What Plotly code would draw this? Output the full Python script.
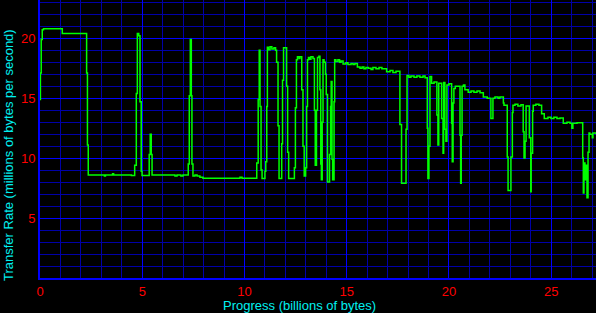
import plotly.graph_objects as go

# Progress (billions of bytes) where each reading starts
progress = [
    0.00, 0.02, 0.06, 0.11, 0.17, 1.09, 2.28, 2.32, 2.36, 3.15, 3.20, 3.55, 3.60, 4.47,
    4.63, 4.71, 4.76, 4.83, 4.89, 4.95, 4.99, 5.34, 5.39, 5.44, 5.48, 6.60, 6.70, 6.89,
    6.99, 7.25, 7.30, 7.35, 7.40, 7.43, 7.48, 7.58, 7.68, 7.82, 7.97, 9.78, 9.88,
    10.60, 10.67, 10.72, 10.76, 10.81, 10.86, 11.00, 11.04, 11.09, 11.12, 11.17, 11.25,
    11.34, 11.44, 11.52, 11.57, 11.64, 11.69, 11.82, 11.86, 11.91, 12.06, 12.11, 12.16,
    12.44, 12.49, 12.54, 12.59, 12.67, 12.71, 12.80, 12.86, 12.92, 12.99, 13.04, 13.08,
    13.13, 13.20, 13.25, 13.35, 13.42, 13.46, 13.52, 13.57, 13.64, 13.69, 13.73, 13.76,
    13.80, 13.84, 13.89, 13.96, 14.00, 14.06, 14.16, 14.21, 14.24, 14.28, 14.31, 14.38,
    14.41, 14.47, 14.57, 14.65, 14.72, 14.82, 14.96, 15.06, 15.21, 15.31, 15.40, 15.52,
    15.65, 15.75, 15.84, 15.94, 16.05, 16.19, 16.28, 16.43, 16.58, 16.72, 16.95, 17.12,
    17.26, 17.41, 17.60, 17.68, 17.90, 17.95, 18.04, 18.14, 18.29, 18.43, 18.58, 18.73,
    18.83, 18.94, 18.97, 19.02, 19.07, 19.15, 19.27, 19.41, 19.46, 19.50, 19.64, 19.71,
    19.74, 19.80, 19.85, 19.90, 20.00, 20.13, 20.16, 20.20, 20.24, 20.31, 20.54, 20.57,
    20.60, 20.64, 20.71, 20.78, 20.94, 21.08, 21.22, 21.37, 21.52, 21.68, 21.87, 22.05,
    22.15, 22.25, 22.40, 22.49, 22.66, 22.69, 22.85, 22.89, 23.03, 23.10, 23.13, 23.23,
    23.37, 23.52, 23.63, 23.67, 23.72, 23.77, 23.93, 24.00, 24.02, 24.09, 24.12, 24.25,
    24.40, 24.53, 24.66, 24.84, 24.99, 25.13, 25.28, 25.43, 25.59, 25.77, 25.92, 26.01,
    26.06, 26.26, 26.54, 26.57, 26.60, 26.65, 26.70, 26.75, 26.80, 26.85, 26.89, 27.01,
    27.04, 27.19,
]

# Transfer rate (millions of bytes per second)
rate = [
    14.9, 17.1, 19.9, 20.7, 20.8, 20.4, 17.1, 11.1, 8.6, 8.5, 8.6, 8.7, 8.6, 8.55,
    9.4, 15.4, 20.4, 20.2, 14.7, 8.9, 8.55, 10.3, 12.0, 10.3, 8.6, 8.5, 8.6, 8.5,
    8.6, 9.5, 15.2, 19.9, 15.2, 9.5, 8.5, 8.6, 8.5, 8.4, 8.33, 8.4, 8.33,
    9.6, 14.9, 19.0, 14.3, 9.0, 8.3, 8.9, 9.7, 14.3, 19.25, 19.05, 19.3,
    19.1, 19.2, 19.0, 18.0, 12.7, 8.3, 11.2, 16.5, 19.2, 16.0, 10.5, 8.3,
    9.2, 14.2, 18.2, 18.45, 18.3, 18.45, 15.7, 11.0, 8.5, 9.2, 14.3, 18.2,
    18.4, 18.25, 18.45, 18.3, 14.0, 9.4, 14.0, 18.4, 18.5, 15.7, 9.5, 8.2,
    13.0, 18.2, 18.0, 17.0, 15.3, 8.0, 10.3, 14.3, 16.4, 9.9, 8.2, 14.7,
    18.2, 18.05, 18.2, 18.0, 18.1, 17.85, 17.95, 17.8, 17.9, 17.8, 17.9, 17.6,
    17.5, 17.6, 17.45, 17.55, 17.5, 17.4, 17.55, 17.45, 17.55, 17.45, 17.2, 17.3,
    17.15, 17.25, 12.8, 7.9, 12.4, 16.9, 16.75, 16.85, 16.75, 16.85, 16.75, 16.85,
    16.7, 12.5, 8.3, 11.0, 16.8, 16.25, 16.35, 13.6, 11.1, 16.25, 13.3, 10.4,
    16.3, 12.4, 11.4, 16.1, 16.2, 12.9, 9.7, 14.6, 15.8, 16.0, 11.9, 7.9,
    11.9, 16.0, 16.1, 15.7, 15.5, 15.6, 15.5, 15.6, 15.45, 15.1, 15.0, 13.3,
    15.0, 15.1, 15.0, 15.1, 14.6, 14.4, 10.1, 7.3, 10.1, 13.8, 14.4, 14.5,
    14.35, 14.45, 12.2, 10.0, 11.4, 14.35, 11.7, 7.2, 10.4, 13.9, 14.4, 14.5,
    14.4, 13.7, 13.3, 13.4, 13.3, 13.4, 13.3, 13.35, 12.9, 13.0, 12.9, 12.5,
    12.9, 12.95, 10.0, 7.1, 9.6, 8.2, 9.4, 6.7, 10.5, 12.1, 12.0, 11.7,
    12.1, 12.0,
]

x_ticks = [0, 5, 10, 15, 20, 25]
y_ticks = [5, 10, 15, 20]

MAJOR = "#0000FF"
MINOR = "#0000A8"
FONT = "Liberation Sans"
TITLE_COLOR = "#00F0F0"

fig = go.Figure()
fig.add_trace(go.Scatter(
    x=progress, y=rate, mode="lines", line_shape="hv",
    line=dict(color="#00FF00", width=1.5), hoverinfo="skip", showlegend=False,
))

fig.update_layout(
    width=596, height=313,
    margin=dict(l=40, r=0, t=0, b=35),
    paper_bgcolor="black", plot_bgcolor="black",
    font=dict(family=FONT, size=13, color="red"),
    xaxis=dict(
        range=[0, 27.19], tickvals=x_ticks, ticktext=[str(v) for v in x_ticks],
        showgrid=True, gridcolor=MAJOR, gridwidth=1.2,
        minor=dict(dtick=1, tick0=0, showgrid=True, gridcolor=MINOR, gridwidth=1),
        showline=True, linecolor=MAJOR, linewidth=2, zeroline=False,
        ticks="", tickfont=dict(color="red", size=13, family=FONT),
    ),
    yaxis=dict(
        range=[0, 23.19], tickvals=y_ticks, ticktext=[str(v) for v in y_ticks],
        showgrid=True, gridcolor=MAJOR, gridwidth=1.2,
        minor=dict(dtick=1, tick0=0, showgrid=True, gridcolor=MINOR, gridwidth=1),
        showline=True, linecolor=MAJOR, linewidth=2, zeroline=False,
        ticks="", tickfont=dict(color="red", size=13, family=FONT),
    ),
    annotations=[
        dict(text="Progress (billions of bytes)", xref="paper", yref="paper",
             x=(299 - 40) / 556, y=-(305 - 278) / 278, xanchor="center", yanchor="middle",
             showarrow=False, font=dict(color=TITLE_COLOR, size=13, family=FONT)),
        dict(text="Transfer Rate (millions of bytes per second)", xref="paper", yref="paper",
             x=(8 - 40) / 556, y=(278 - 155) / 278, xanchor="center", yanchor="middle",
             textangle=-90, showarrow=False,
             font=dict(color=TITLE_COLOR, size=13, family=FONT)),
    ],
)

fig.write_html("out.html")
